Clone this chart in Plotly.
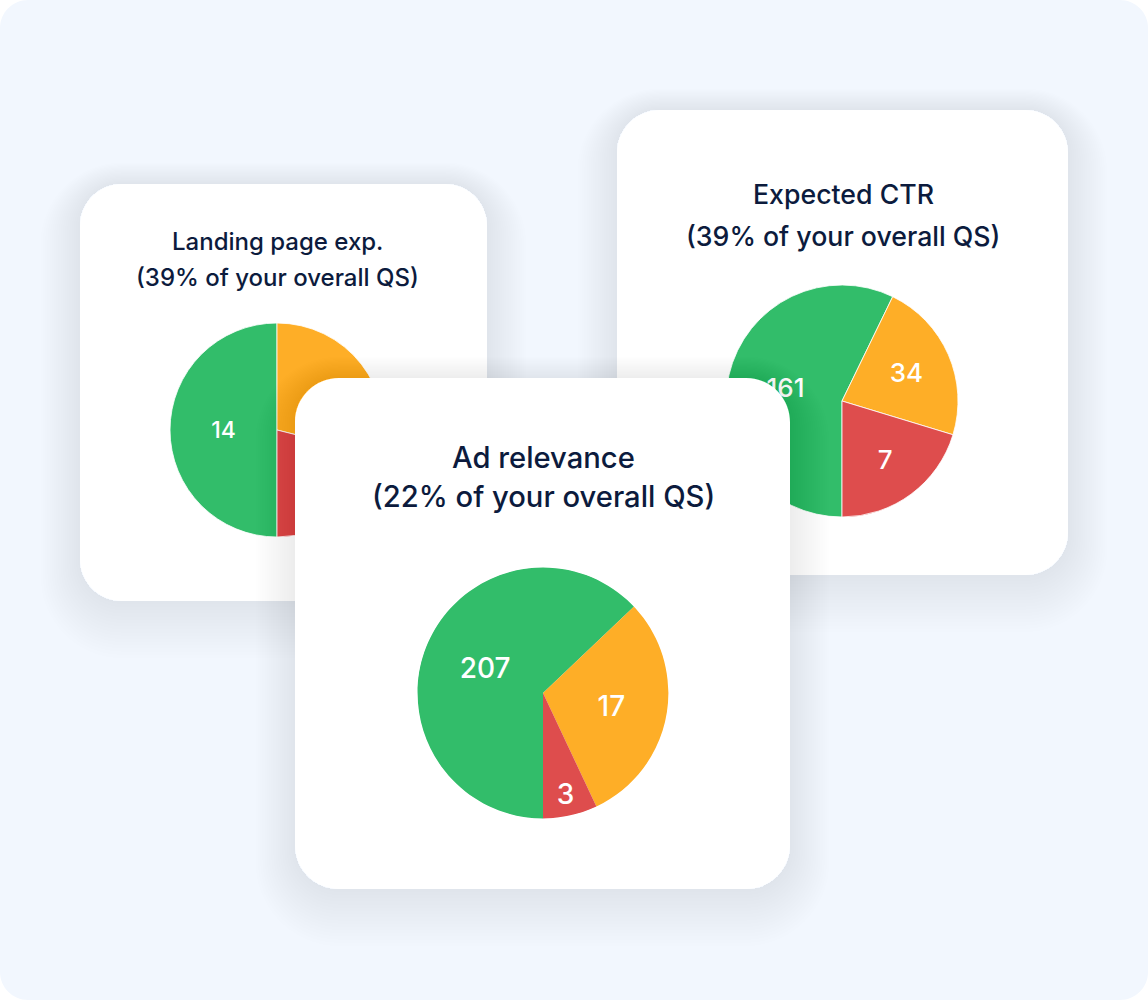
import plotly.graph_objects as go

# ---------------- data ----------------
categories = ["Above average", "Average", "Below average"]
slice_colors = ["#32bd6a", "#feae27", "#de4d4d"]

landing_title = ["Landing page exp.", "(39% of your overall QS)"]
landing_shares = [50.0, 28.9, 21.1]
landing_labels = ["14", "6", "5"]

ctr_title = ["Expected CTR", "(39% of your overall QS)"]
ctr_shares = [57.2, 22.5, 20.3]
ctr_labels = ["161", "34", "7"]

ad_title = ["Ad relevance", "(22% of your overall QS)"]
ad_shares = [62.9, 30.1, 7.0]
ad_labels = ["207", "17", "3"]

# ---------------- layout geometry (pixels) ----------------
W, H = 1148, 1000
FONT = "Inter"
NAVY = "#0c1b3d"
BG = "#f2f7fe"

cards = {
    "landing": dict(box=(80, 184, 487, 601), r=42, pie=(277, 430, 107),
                    title_y=(241, 277), title_x=277, tsize=24, lsize=23),
    "ctr": dict(box=(617, 110, 1068, 575), r=43, pie=(842, 401, 116),
                title_y=(194, 236), title_x=843, tsize=26.7, lsize=26),
    "ad": dict(box=(295, 378, 790, 889), r=44, pie=(543, 693, 126),
               title_y=(458, 496), title_x=543, tsize=29.2, lsize=28),
}


def fx(x):
    return x / W


def fy(y):
    return 1 - y / H


def fmt(pts):
    return " ".join(f"{fx(px):.5f},{fy(py):.5f}" for px, py in pts)


def rr_path(x0, y0, x1, y1, r):
    k = 0.5523 * r
    segs = [
        ("M", [(x0 + r, y0)]),
        ("L", [(x1 - r, y0)]),
        ("C", [(x1 - r + k, y0), (x1, y0 + r - k), (x1, y0 + r)]),
        ("L", [(x1, y1 - r)]),
        ("C", [(x1, y1 - r + k), (x1 - r + k, y1), (x1 - r, y1)]),
        ("L", [(x0 + r, y1)]),
        ("C", [(x0 + r - k, y1), (x0, y1 - r + k), (x0, y1 - r)]),
        ("L", [(x0, y0 + r)]),
        ("C", [(x0, y0 + r - k), (x0 + r - k, y0), (x0 + r, y0)]),
    ]
    return " ".join(c + fmt(p) for c, p in segs) + " Z"


def circle_path(cx, cy, r):
    k = 0.5523 * r
    segs = [
        ("M", [(cx + r, cy)]),
        ("C", [(cx + r, cy - k), (cx + k, cy - r), (cx, cy - r)]),
        ("C", [(cx - k, cy - r), (cx - r, cy - k), (cx - r, cy)]),
        ("C", [(cx - r, cy + k), (cx - k, cy + r), (cx, cy + r)]),
        ("C", [(cx + k, cy + r), (cx + r, cy + k), (cx + r, cy)]),
    ]
    return " ".join(c + fmt(p) for c, p in segs) + " Z"


NSH, STEP, ALPHA = 18, 2.2, 0.0044
SHADOW = f"rgba(40,60,110,{ALPHA})"


def shadow_frames(key, layer):
    x0, y0, x1, y1 = cards[key]["box"]
    r = cards[key]["r"]
    out = []
    for i in range(1, NSH + 1):
        s = i * STEP
        outer = rr_path(x0 - s, y0 - 0.55 * s, x1 + s, y1 + 1.45 * s, r + s)
        inner = rr_path(x0, y0, x1, y1, r)
        out.append(dict(type="path", xref="paper", yref="paper", layer=layer,
                        path=outer + " " + inner, fillrule="evenodd",
                        fillcolor=SHADOW, line_width=0))
    return out


shapes = []
# outer light-blue panel
shapes.append(dict(type="path", xref="paper", yref="paper", layer="below",
                   path=rr_path(0, 0, W, H, 28), fillcolor=BG, line_width=0))

# back cards with their shadows (below the pies)
for key in ("landing", "ctr"):
    shapes += shadow_frames(key, "below")
    x0, y0, x1, y1 = cards[key]["box"]
    shapes.append(dict(type="path", xref="paper", yref="paper", layer="below",
                       path=rr_path(x0, y0, x1, y1, cards[key]["r"]),
                       fillcolor="white", line_width=0))

# front card: drawn above the back pies, with a round window for its own pie
shapes += shadow_frames("ad", "above")
ax0, ay0, ax1, ay1 = cards["ad"]["box"]
acx, acy, arad = cards["ad"]["pie"]
shapes.append(dict(type="path", xref="paper", yref="paper", layer="above",
                   path=rr_path(ax0, ay0, ax1, ay1, cards["ad"]["r"]) + " "
                   + circle_path(acx, acy, arad - 0.6),
                   fillrule="evenodd", fillcolor="white", line_width=0))


def pie_domain(cx, cy, rad):
    return dict(x=[fx(cx - rad), fx(cx + rad)], y=[fy(cy + rad), fy(cy - rad)])


fig = go.Figure()
for key, shares, labels in (("landing", landing_shares, landing_labels),
                            ("ctr", ctr_shares, ctr_labels),
                            ("ad", ad_shares, ad_labels)):
    cx, cy, rad = cards[key]["pie"]
    fig.add_trace(go.Pie(
        labels=categories, values=shares, text=labels, textinfo="text",
        sort=False, direction="clockwise", rotation=180,
        marker=dict(colors=slice_colors,
                    line=dict(color="white", width=0.8 if key != "ad" else 0)),
        textposition="inside", insidetextorientation="horizontal",
        textfont=dict(family=FONT, size=cards[key]["lsize"], color="white", weight=500),
        domain=pie_domain(cx, cy, rad), showlegend=False, hoverinfo="skip",
    ))

annotations = []
for key, title in (("landing", landing_title), ("ctr", ctr_title), ("ad", ad_title)):
    c = cards[key]
    for line, yy in zip(title, c["title_y"]):
        annotations.append(dict(text=line, x=fx(c["title_x"]), y=fy(yy),
                                xref="paper", yref="paper", showarrow=False,
                                xanchor="center", yanchor="middle",
                                font=dict(family=FONT, size=c["tsize"], color=NAVY,
                                          weight=500)))

fig.update_layout(
    width=W, height=H, margin=dict(l=0, r=0, t=0, b=0),
    paper_bgcolor="white", plot_bgcolor="rgba(0,0,0,0)",
    shapes=shapes, annotations=annotations, showlegend=False,
)

fig.write_html("out.html")
